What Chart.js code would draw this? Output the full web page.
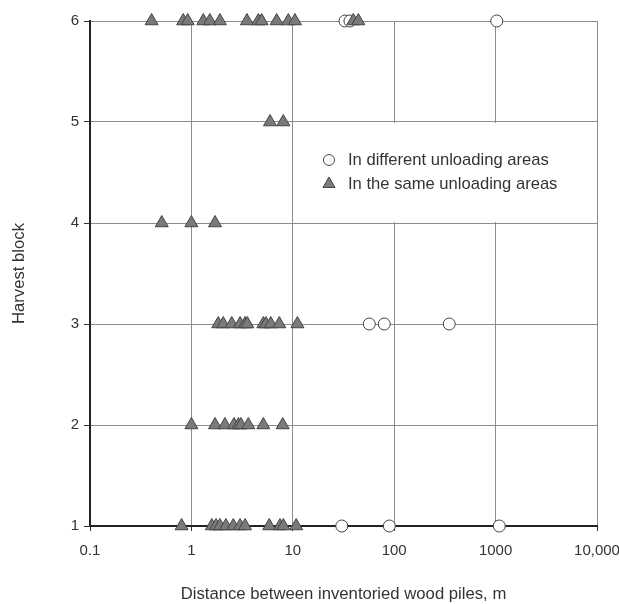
<!DOCTYPE html>
<html>
<head>
<meta charset="utf-8">
<title>Distance between inventoried wood piles</title>
<script src="https://cdn.jsdelivr.net/npm/chart.js@4.4.0/dist/chart.umd.min.js"></script>
<style>
    html, body { margin: 0; padding: 0; background: #fff; }
    #wrap { width: 619px; height: 604px; }
</style>
</head>
<body>
<div id="wrap"><canvas id="chart" width="619" height="604"></canvas></div>
<script>
// Axis ticks
const xTickValues = [0.1, 1, 10, 100, 1000, 10000];
const xTickLabels = ['0.1', '1', '10', '100', '1000', '10,000'];
const yTickValues = [1, 2, 3, 4, 5, 6];

// Distances (m) in the same unloading areas, per harvest block
const sameBlock1 = [0.80, 1.59, 1.75, 1.91, 2.19, 2.59, 3.02, 3.38, 5.86, 7.48, 8.06, 10.8];
const sameBlock2 = [1.0, 1.71, 2.14, 2.63, 2.91, 3.08, 3.64, 5.12, 7.95];
const sameBlock3 = [1.84, 2.06, 2.50, 3.02, 3.38, 3.56, 5.12, 5.44, 6.06, 7.36, 11.1];
const sameBlock4 = [0.51, 1.0, 1.71];
const sameBlock5 = [5.96, 8.06];
const sameBlock6 = [0.405, 0.83, 0.92, 1.31, 1.52, 1.91, 3.53, 4.57, 4.93, 6.93, 9.03, 10.5, 39.5, 44.3];

// Distances (m) in different unloading areas, per harvest block
const diffBlock1 = [30.4, 89.5, 1087];
const diffBlock3 = [56.8, 79.8, 349];
const diffBlock6 = [32.7, 36.6, 1026];

const legendLabels = ['In different unloading areas', 'In the same unloading areas'];

/**
 * Turn a list of distances into points on one block row
 */
function toPoints(block, distances) {
    return distances.map(d => ({ x: d, y: block }));
}

const samePoints = [
    ...toPoints(1, sameBlock1),
    ...toPoints(2, sameBlock2),
    ...toPoints(3, sameBlock3),
    ...toPoints(4, sameBlock4),
    ...toPoints(5, sameBlock5),
    ...toPoints(6, sameBlock6)
];
const diffPoints = [
    ...toPoints(1, diffBlock1),
    ...toPoints(3, diffBlock3),
    ...toPoints(6, diffBlock6)
];

const FONT = "'Liberation Sans', Arial, sans-serif";
const GRID = '#8c8c8c';
const TEXT = '#333';

// Legend sits in a white box between blocks 4 and 5
const boxLegend = {
    id: 'boxLegend',
    afterDraw(chart) {
        const { ctx, chartArea, scales } = chart;
        const y5 = scales.y.getPixelForValue(5);
        const y4 = scales.y.getPixelForValue(4);
        const x0 = 298;
        ctx.save();
        ctx.fillStyle = '#fff';
        ctx.fillRect(x0, y5 + 1, chartArea.right - 1 - x0, y4 - y5 - 2);

        // circle marker
        ctx.beginPath();
        ctx.arc(329, 160, 5.5, 0, Math.PI * 2);
        ctx.fillStyle = '#fff';
        ctx.fill();
        ctx.lineWidth = 1;
        ctx.strokeStyle = '#444';
        ctx.stroke();

        // triangle marker
        const r = 7;
        ctx.beginPath();
        ctx.moveTo(329, 184 - r);
        ctx.lineTo(329 + r * 0.866, 184 + r * 0.5);
        ctx.lineTo(329 - r * 0.866, 184 + r * 0.5);
        ctx.closePath();
        ctx.fillStyle = '#7a7a7a';
        ctx.fill();
        ctx.strokeStyle = '#444';
        ctx.stroke();

        ctx.fillStyle = TEXT;
        ctx.font = '16.6px ' + FONT;
        ctx.textBaseline = 'middle';
        ctx.textAlign = 'left';
        ctx.fillText(legendLabels[0], 348, 160);
        ctx.fillText(legendLabels[1], 348, 184);
        ctx.restore();
    }
};

const ctx = document.getElementById('chart').getContext('2d');
new Chart(ctx, {
    type: 'scatter',
    data: {
        datasets: [
            {
                label: legendLabels[1],
                data: samePoints,
                pointStyle: 'triangle',
                pointRadius: 7.5,
                pointHoverRadius: 7.5,
                backgroundColor: '#7a7a7a',
                borderColor: '#444',
                borderWidth: 1,
                clip: false,
                order: 0
            },
            {
                label: legendLabels[0],
                data: diffPoints,
                pointStyle: 'circle',
                pointRadius: 6,
                pointHoverRadius: 6,
                backgroundColor: '#fff',
                borderColor: '#444',
                borderWidth: 1,
                clip: false,
                order: 1
            }
        ]
    },
    options: {
        responsive: false,
        animation: false,
        layout: { padding: { top: 21, right: 22, left: 0, bottom: 0 } },
        plugins: {
            legend: { display: false },
            tooltip: { enabled: false }
        },
        scales: {
            x: {
                type: 'logarithmic',
                min: 0.1,
                max: 10000,
                afterBuildTicks: scale => {
                    scale.ticks = xTickValues.map(v => ({ value: v }));
                },
                afterFit: scale => {
                    scale.height = 78;
                    scale.paddingLeft = 0;
                    scale.paddingRight = 0;
                },
                ticks: {
                    autoSkip: false,
                    maxRotation: 0,
                    padding: 11,
                    color: TEXT,
                    font: { family: FONT, size: 15 },
                    callback: (value, index) => xTickLabels[index]
                },
                grid: { color: GRID, tickColor: '#333', tickLength: 5 },
                border: { color: '#222', width: 2 },
                title: {
                    display: true,
                    text: 'Distance between inventoried wood piles, m',
                    color: TEXT,
                    font: { family: FONT, size: 16.7 },
                    padding: { top: 4, bottom: 0 }
                }
            },
            y: {
                type: 'linear',
                min: 1,
                max: 6,
                afterBuildTicks: scale => {
                    scale.ticks = yTickValues.map(v => ({ value: v }));
                },
                afterFit: scale => {
                    scale.width = 90;
                    scale.paddingTop = 0;
                    scale.paddingBottom = 0;
                },
                ticks: {
                    padding: 5,
                    color: TEXT,
                    font: { family: FONT, size: 15 }
                },
                grid: { color: GRID, tickColor: '#333', tickLength: 6 },
                border: { color: '#222', width: 2 },
                title: {
                    display: true,
                    text: 'Harvest block',
                    color: TEXT,
                    font: { family: FONT, size: 16.7 },
                    padding: { top: 9, bottom: 4 }
                }
            }
        }
    },
    plugins: [boxLegend]
});
</script>
</body>
</html>
